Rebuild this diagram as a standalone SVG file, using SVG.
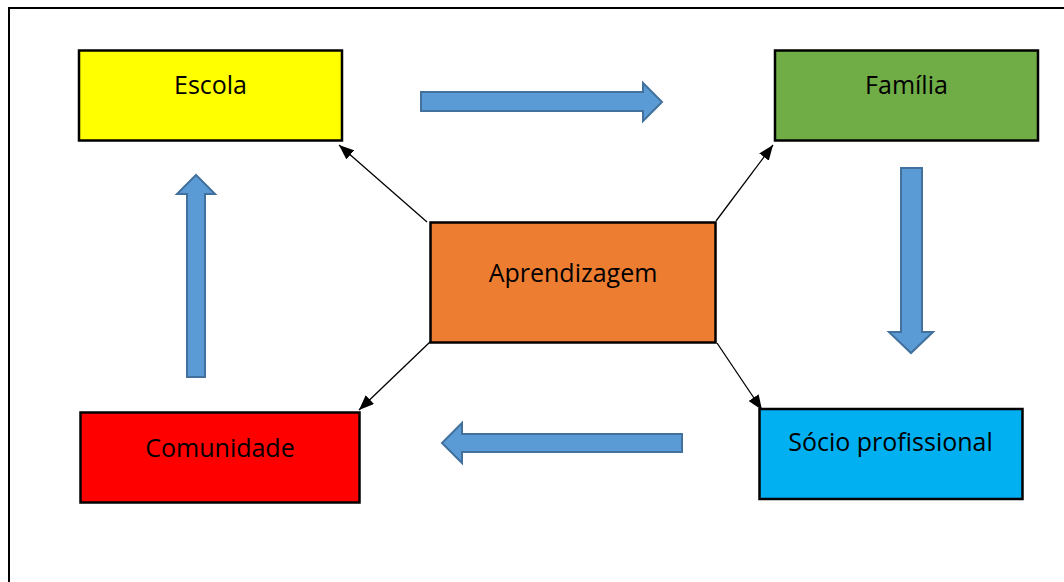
<svg xmlns="http://www.w3.org/2000/svg" width="1064" height="582" viewBox="0 0 1064 582">
<style>
.box{stroke:#000;stroke-width:2.5}
.lbl{font-family:"Open Sans","Noto Sans",sans-serif;font-size:25px;fill:#000;text-anchor:middle}
.blk{fill:#5B9BD5;stroke:#41719C;stroke-width:2}
.con{stroke:#000;stroke-width:1.3;fill:none;marker-end:url(#ah)}
</style>
<defs>
<marker id="ah" viewBox="0 0 15 12" refX="15" refY="6" markerWidth="15" markerHeight="12" markerUnits="userSpaceOnUse" orient="auto">
<path d="M0,0 L15,6 L0,12 Z" fill="#000"/>
</marker>
</defs>
<rect x="9" y="8" width="1062" height="584" fill="#fff" stroke="#000" stroke-width="2"/>
<g id="escola"><rect class="box" x="79" y="50.5" width="263" height="90" fill="#FFFF00"/><text class="lbl" x="210.5" y="94">Escola</text></g>
<g id="familia"><rect class="box" x="775" y="50.5" width="263" height="90" fill="#70AD47"/><text class="lbl" x="906.5" y="94">Família</text></g>
<g id="aprendizagem"><rect class="box" x="430.5" y="222.5" width="285" height="120" fill="#ED7D31"/><text class="lbl" x="573" y="282">Aprendizagem</text></g>
<g id="comunidade"><rect class="box" x="80.5" y="412.5" width="279" height="90" fill="#FF0000"/><text class="lbl" x="220" y="457">Comunidade</text></g>
<g id="socio"><rect class="box" x="759.5" y="409" width="263" height="90" fill="#00B0F0"/><text class="lbl" x="890.5" y="451">Sócio profissional</text></g>
<g id="connectors">
<line class="con" x1="427" y1="222" x2="339" y2="145"/>
<line class="con" x1="716" y1="221" x2="773" y2="145"/>
<line class="con" x1="430" y1="342" x2="359" y2="410"/>
<line class="con" x1="717" y1="343" x2="762" y2="410"/>
<polygon class="blk" points="421,92 643,92 643,83 662,102 643,121 643,111 421,111"/>
<polygon class="blk" points="187,377 187,194 177,194 196,175 215,194 205,194 205,377"/>
<polygon class="blk" points="901,168 922,168 922,332 933,332 911,353 889,332 901,332"/>
<polygon class="blk" points="682,434 462,434 462,423 442,443 462,463 462,452 682,452"/>
</g>
</svg>
